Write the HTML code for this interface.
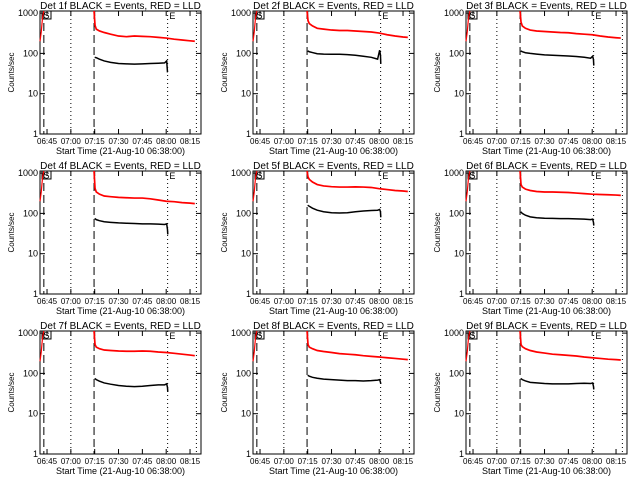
<!DOCTYPE html>
<html><head><meta charset="utf-8"><style>
html,body{margin:0;padding:0;background:#fff;}
svg{display:block;font-family:"Liberation Sans",sans-serif;}
</style></head><body>
<svg id="chart" width="640" height="480" viewBox="0 0 640 480" xmlns="http://www.w3.org/2000/svg">
<rect x="0" y="0" width="640" height="480" fill="#fff"/>
</svg>
<script>
const detNames = ["1f","2f","3f","4f","5f","6f","7f","8f","9f"];
const tickLabelsX = ["06:45","07:00","07:15","07:30","07:45","08:00","08:15"];
const tickMinutesX = [7,22,37,52,67,82,97];
const tickLabelsY = ["1","10","100","1000"];
const tickValuesY = [1,10,100,1000];
const earlyT = [2.6,3.4,4.2,5.0];
const earlyRed = [200,350,800,1300];
const redT = [36.6,37.2,38,40,43,47,52,57,62,67,72,77,82,87,92,97,100];
const blackT = [37,38,40,43,47,52,57,62,67,72,77,81,82.3,82.8,83];
const redVals = [
 [1300,500,400,360,330,300,270,260,270,265,260,250,240,225,215,205,200],
 [1300,650,550,480,420,400,380,370,370,360,350,340,320,290,270,255,250],
 [1300,600,480,420,380,360,350,340,330,325,310,300,290,270,255,245,240],
 [1300,420,340,300,270,260,250,245,240,240,230,215,200,195,185,180,175],
 [1300,800,700,600,520,480,460,450,450,455,450,440,410,390,370,360,350],
 [1300,520,450,400,370,350,340,340,335,330,320,310,300,295,290,285,280],
 [1300,520,450,410,380,370,360,355,355,360,355,340,330,315,300,285,275],
 [1300,520,450,410,370,350,330,310,300,290,275,265,255,245,235,225,220],
 [1300,520,460,410,370,340,320,300,290,280,270,255,245,235,225,220,215]
];
const blackVals = [
 [80,78,72,65,60,56,55,54,55,56,57,58,65,35,35],
 [115,110,105,98,96,95,95,93,90,85,80,72,120,90,55],
 [115,110,104,100,96,92,90,88,86,84,80,76,85,70,50],
 [75,70,66,62,60,58,57,56,55,55,54,53,55,40,30],
 [160,150,135,120,110,104,102,104,110,115,118,120,125,110,80],
 [110,100,90,82,78,76,75,74,74,73,72,70,72,60,50],
 [75,70,64,58,54,50,48,47,48,50,52,52,55,45,35],
 [90,85,80,76,72,70,68,66,66,65,66,68,70,60,55],
 [75,70,65,60,58,56,55,55,55,56,57,56,58,48,40]
];
const vLinesDashed = [5,36.6];
const vLinesDotted = [22,82.9,101];

const NS="http://www.w3.org/2000/svg";
const svg=document.getElementById("chart");
function mk(tag,attrs,parent){const e=document.createElementNS(NS,tag);for(const k in attrs)e.setAttribute(k,attrs[k]);(parent||svg).appendChild(e);return e;}

detNames.forEach((name,i)=>{
 const dx=[0,213,426][i%3], dy=[0,160,320][Math.floor(i/3)];
 const L=40+dx,R=201+dx,T=11+dy,B=134+dy;
 const xs=m=>35.9+dx+m*1.589;
 const ys=v=>B-(Math.log10(v))*40.3;
 const g=mk("g",{});
 
 
 const title=mk("text",{x:(L+R)/2,y:T-2,"font-size":"10","text-anchor":"middle",fill:"#000"},g);
 title.textContent="Det "+name+" BLACK = Events, RED = LLD";
 
 
 const box=mk("rect",{x:L,y:T,width:R-L,height:B-T,fill:"none",stroke:"#000","stroke-width":"1"},g);
 
 
 tickValuesY.forEach((v,k)=>{
  const y=ys(v);
  mk("line",{x1:L,x2:L+5,y1:y,y2:y,stroke:"#000"},g);
  mk("line",{x1:R,x2:R-5,y1:y,y2:y,stroke:"#000"},g);
  const t=mk("text",{x:L-2,y:y+3,"font-size":"9","text-anchor":"end"},g);
  t.textContent=tickLabelsY[k];
  
  
 });
 const yt=mk("text",{x:0,y:0,"font-size":"8","text-anchor":"middle",transform:`translate(${14+dx},${(T+B)/2}) rotate(-90)`},g);
 yt.textContent="Counts/sec";
 
 
 tickMinutesX.forEach((m,k)=>{
  const x=xs(m);
  mk("line",{x1:x,x2:x,y1:B,y2:B-5,stroke:"#000"},g);
  mk("line",{x1:x,x2:x,y1:T,y2:T+5,stroke:"#000"},g);
  const t=mk("text",{x:x,y:B+10,"font-size":"8","text-anchor":"middle"},g);
  t.textContent=tickLabelsX[k];
  
  
 });
 const xt=mk("text",{x:(L+R)/2,y:B+20,"font-size":"9","text-anchor":"middle"},g);
 xt.textContent="Start Time (21-Aug-10 06:38:00)";
 
 
 vLinesDashed.forEach(m=>{const l=mk("line",{x1:xs(m),x2:xs(m),y1:T,y2:B,stroke:"#000","stroke-dasharray":"8,4"},g);
  });
 vLinesDotted.forEach(m=>{const l=mk("line",{x1:xs(m),x2:xs(m),y1:T,y2:B,stroke:"#000","stroke-dasharray":"1,3"},g);
  });
 const sb=mk("rect",{x:L+2,y:T,width:9,height:8,fill:"none",stroke:"#000"},g);
 
 const st=mk("text",{x:L+3.5,y:T+7.5,"font-size":"9"},g);st.textContent="S";
 
 const et=mk("text",{x:xs(84),y:T+8,"font-size":"9"},g);et.textContent="E";
 
 const clipY=v=>Math.max(T,ys(v));
 const early=mk("polyline",{points:earlyT.map((t,k)=>xs(t)+","+clipY(earlyRed[k])).join(" "),fill:"none",stroke:"#f00","stroke-width":"1.2"},g);
 
 const red=mk("polyline",{points:redT.map((t,k)=>xs(t)+","+clipY(redVals[i][k])).join(" "),fill:"none",stroke:"#f00","stroke-width":"1.7"},g);
 
 const blk=mk("polyline",{points:blackT.map((t,k)=>xs(t)+","+clipY(blackVals[i][k])).join(" "),fill:"none",stroke:"#000","stroke-width":"1.5"},g);
 
});
</script>
</body></html>
